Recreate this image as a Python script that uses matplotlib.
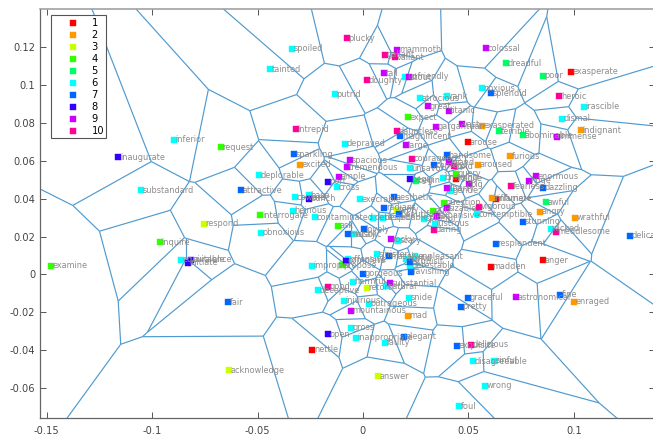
import numpy as np
import matplotlib
matplotlib.use('Agg')
import matplotlib.pyplot as plt
import matplotlib.tri as mtri
from matplotlib.collections import LineCollection
from matplotlib.patches import Rectangle

words = ["inaugurate","inferior","request","substandard","attractive","deplorable","sparkling","excited","intrepid","tainted",
"spoiled","interrogate","heinous","contaminated","coward","base","bunch",
"plucky","mammoth","gallant","valiant","tall","doughty","unfriendly","stout","colossal","dreadful","poor","exasperate",
"noxious","splendid","heroic","irascible","dismal","indignant","immense","abominable","terrible","exasperated","vast",
"gargantuan","titanic","great","atrocious","rank","expect","putrid","dauntless","magnificent","large","arouse","depraved",
"spacious","tremendous","ample","port","cross","courageous","handsome","unsavory","comely","grand","bold","aroused","furious",
"enormous","huge","dazzling","fearless","query","begin","begin","bringing","fragile","big","liberty","gentle",
"inflame","infuriate","awful","angry","question","sizable","vigorous","contemptible","expansive","quiz",
"execrable","aesthetic","radiant","reply","beautiful","wrathful",
"respond","obnoxious","inquire","equivalence","suitable","initiate","examine","fair","acknowledge","improper","nettle",
"deceptive","good","open",
"ask","lovely","metallic","rusty","stunning","wicked","meddlesome","delicate","resplendent","madden","anger","astronomical",
"fine","enraged","graceful","pretty","exquisite","delicious","disagreeable","sinful","wrong","foul","answer","elegant","faulty",
"inappropriate","gross","mad","mountainous","injurious","outrageous","snide","harmful","retort","substantial","natural",
"gorgeous","ravishing","unpleasant","sinister","massive","horrid","exquisit","detestable","complete","offensive","propose",
"rocky","scary","daring","lustrous","detested","despicable","spiteful"]
xs = [-0.1160,-0.0897,-0.0675,-0.1052,-0.0580,-0.0493,-0.0327,-0.0297,-0.0319,-0.0440,
-0.0335,-0.0487,-0.0334,-0.0229,-0.0323,-0.0255,-0.0255,
-0.0076,0.0163,0.0103,0.0153,0.0101,0.0018,0.0201,0.0218,0.0583,0.0680,0.0855,0.0985,
0.0563,0.0606,0.0931,0.1047,0.0945,0.1033,0.0922,0.0758,0.0645,0.0566,0.0468,
0.0345,0.0407,0.0308,0.0272,0.0400,0.0213,-0.0133,0.0160,0.0177,0.0205,0.0497,-0.0084,
-0.0062,-0.0076,-0.0112,-0.0165,-0.0123,0.0234,0.0398,0.0224,0.0338,0.0407,0.0430,0.0547,0.0699,
0.0822,0.0787,0.0854,0.0704,0.0443,0.0224,0.0250,0.0380,0.0440,0.0503,0.0398,0.0419,
0.0613,0.0629,0.0867,0.0838,0.0384,0.0398,0.0550,0.0539,0.0351,0.0331,
-0.0014,0.0148,0.0101,0.0161,0.0169,0.1007,
-0.0754,-0.0482,-0.0962,-0.0863,-0.0814,-0.0829,-0.1480,-0.0639,-0.0637,-0.0243,-0.0240,
-0.0215,-0.0166,-0.0165,
-0.0120,0.0003,-0.0070,-0.0044,0.0759,0.0890,0.0914,0.1268,0.0631,0.0606,0.0852,0.0724,
0.0936,0.1001,0.0497,0.0463,0.0446,0.0511,0.0523,0.0620,0.0580,0.0457,0.0073,0.0196,0.0106,
-0.0032,-0.0055,0.0213,-0.0058,-0.0089,0.0030,0.0218,-0.0047,0.0020,0.0127,0.0108,
0.0000,0.0228,0.0248,0.0068,0.0123,0.0205,0.0222,0.0222,-0.0081,-0.0073,-0.0101,
0.0134,0.0166,0.0337,0.0342,0.0047,0.0095,0.0291]
ys = [0.0619,0.0711,0.0670,0.0445,0.0445,0.0523,0.0635,0.0579,0.0767,0.1081,
0.1190,0.0312,0.0336,0.0303,0.0407,0.0418,0.0400,
0.1246,0.1185,0.1158,0.1146,0.1062,0.1025,0.1044,0.1039,0.1194,0.1113,0.1048,0.1069,
0.0983,0.0955,0.0941,0.0884,0.0820,0.0760,0.0725,0.0735,0.0755,0.0783,0.0792,
0.0779,0.0863,0.0888,0.0929,0.0941,0.0828,0.0951,0.0756,0.0730,0.0682,0.0698,0.0689,
0.0602,0.0565,0.0515,0.0489,0.0461,0.0610,0.0630,0.0560,0.0575,0.0591,0.0572,0.0579,0.0623,
0.0519,0.0494,0.0456,0.0465,0.0531,0.0503,0.0494,0.0509,0.0505,0.0477,0.0454,0.0442,
0.0402,0.0399,0.0381,0.0331,0.0378,0.0349,0.0357,0.0317,0.0310,0.0336,
0.0396,0.0408,0.0352,0.0340,0.0317,0.0299,
0.0268,0.0220,0.0171,0.0078,0.0078,0.0062,0.0046,-0.0147,-0.0505,0.0046,-0.0396,
-0.0082,-0.0064,-0.0315,
0.0256,0.0238,0.0212,0.0212,0.0277,0.0240,0.0224,0.0203,0.0162,0.0041,0.0075,-0.0119,
-0.0106,-0.0143,-0.0122,-0.0171,-0.0377,-0.0372,-0.0457,-0.0454,-0.0586,-0.0695,-0.0536,-0.0328,-0.0361,
-0.0333,-0.0280,-0.0219,-0.0191,-0.0138,-0.0154,-0.0124,-0.0038,-0.0070,-0.0046,-0.0061,
0.0003,0.0013,0.0096,0.0106,0.0096,0.0083,0.0066,0.0045,0.0071,0.0080,0.0048,
0.0186,0.0177,0.0236,0.0268,0.0300,0.0300,0.0295]
classes = [8,6,4,6,7,6,7,2,10,6,
6,4,6,6,6,6,8,
10,9,10,10,9,10,6,9,9,5,5,1,
6,7,10,6,6,2,9,5,5,2,9,
9,9,9,6,6,4,6,10,7,9,1,6,
9,9,9,8,6,10,7,6,7,9,10,2,2,
9,9,7,10,4,8,5,6,1,9,9,6,
2,1,5,2,4,9,10,6,9,4,
6,7,7,3,7,2,
3,6,4,6,8,8,4,7,3,6,1,
6,10,8,
4,7,7,6,7,6,10,7,7,1,1,9,
7,2,7,7,7,10,6,6,6,6,3,7,6,
6,6,2,9,6,6,6,6,3,9,6,
7,7,6,6,7,6,7,6,8,6,4,
9,6,10,6,6,6,6]
legend_levels = [1,2,3,4,5,6,7,8,9,10]
palette = ['#ff0000','#ff9900','#ccff00','#33ff00','#00ff66','#00ffff','#0066ff','#3300ff','#cc00ff','#ff0099']
xticks = [-0.15,-0.1,-0.05,0,0.05,0.1]
xticklabels = ['-0.15','-0.1','-0.05','0','0.05','0.1']
yticks = [-0.06,-0.04,-0.02,0,0.02,0.04,0.06,0.08,0.1,0.12]
yticklabels = ['-0.06','-0.04','-0.02','0','0.02','0.04','0.06','0.08','0.1','0.12']

X = np.array(xs); Y = np.array(ys); C = np.array(classes)

W, H = 653, 436
fig = plt.figure(figsize=(W/100, H/100), dpi=100)
AW, AH = 615, 409
ax = fig.add_axes([40/W, (H-418)/H, AW/W, AH/H])
ax.set_xlim(-0.1532, 0.1385)
ax.set_ylim(-0.0757, 0.1400)

# Voronoi diagram from the Delaunay triangulation of the points
tri = mtri.Triangulation(X, Y)
P = np.column_stack([X, Y])
T = tri.triangles
a, b, c = P[T[:,0]], P[T[:,1]], P[T[:,2]]
d = 2*(a[:,0]*(b[:,1]-c[:,1]) + b[:,0]*(c[:,1]-a[:,1]) + c[:,0]*(a[:,1]-b[:,1]))
d[np.abs(d) < 1e-14] = 1e-14
sa, sb, sc = (a**2).sum(1), (b**2).sum(1), (c**2).sum(1)
cc = np.column_stack([
    (sa*(b[:,1]-c[:,1]) + sb*(c[:,1]-a[:,1]) + sc*(a[:,1]-b[:,1]))/d,
    (sa*(c[:,0]-b[:,0]) + sb*(a[:,0]-c[:,0]) + sc*(b[:,0]-a[:,0]))/d])
segs = []
nb = tri.neighbors
for i in range(len(T)):
    for k in range(3):
        j = nb[i, k]
        if j > i:
            segs.append([cc[i], cc[j]])
        elif j == -1:
            p, q = P[T[i, k]], P[T[i, (k+1) % 3]]
            r = P[T[i, (k+2) % 3]]
            e = q - p
            n = np.array([e[1], -e[0]]); n /= np.hypot(*n)
            if np.dot(n, r - p) > 0:
                n = -n
            segs.append([cc[i], cc[i] + n*2])
ax.add_collection(LineCollection(segs, colors='#4f9ad0', linewidths=0.85, zorder=1))

# markers and labels
for lev, col in zip(legend_levels, palette):
    m = C == lev
    ax.plot(X[m], Y[m], ls='none', marker='s', ms=4.1, mfc=col, mec=col, mew=0.3, label=str(lev), zorder=2)
for w, x, y in zip(words, X, Y):
    ax.text(x + 0.0007, y, w, fontsize=5.9, color='#8c8c8c', va='center', ha='left', zorder=3, clip_on=True)

ax.set_xticks(xticks); ax.set_xticklabels(xticklabels)
ax.set_yticks(yticks); ax.set_yticklabels(yticklabels)
ax.tick_params(direction='in', length=4, width=0.7, top=True, right=True, color='#555555',
               labelcolor='#444444', labelsize=7.1)
ax.tick_params(axis='x', pad=5.5)
ax.tick_params(axis='y', pad=3.5)
for s in ax.spines.values():
    s.set_color('#666666'); s.set_linewidth(0.9)
ax.spines['top'].set_color('#9a9a9a'); ax.spines['top'].set_linewidth(1.1)

# legend box and rows, placed in pixels of the axes
ax.add_patch(Rectangle((11/AW, (418-138)/AH), 55/AW, 123/AH, transform=ax.transAxes,
                       fc='white', ec='#555555', lw=0.8, zorder=4))
leg = ax.legend(loc='upper left', bbox_to_anchor=(18/AW, (418-18.5)/AH), fontsize=7.1,
                frameon=False, labelspacing=0.2, handlelength=3.0, handletextpad=0.4,
                borderpad=0, borderaxespad=0)
leg.set_zorder(5)
fig.savefig('out.png', dpi=100)
